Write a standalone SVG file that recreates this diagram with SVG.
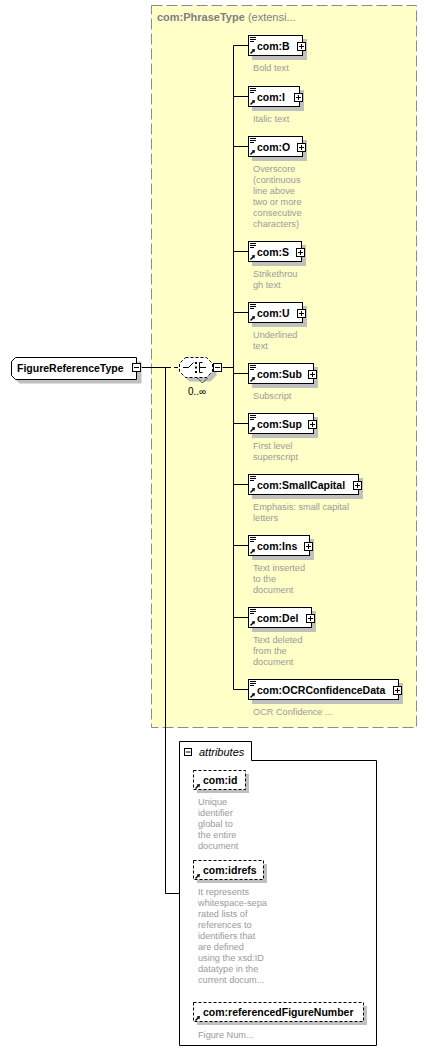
<svg xmlns="http://www.w3.org/2000/svg" xmlns:xlink="http://www.w3.org/1999/xlink" width="427" height="1063" viewBox="0 0 427 1063">
<style>
.lbl{font-family:"Liberation Sans",Arial,sans-serif;font-size:10.5px;font-weight:bold;fill:#000}
.desc{font-family:"Liberation Sans",Arial,sans-serif;font-size:9.2px;fill:#9a9a9a}
.el{fill:#fff;stroke:#000;stroke-width:1}
.att{fill:#fff;stroke:#000;stroke-width:1;stroke-dasharray:3 2}
.sh{fill:#c0c0c0}
.ln{fill:none;stroke:#000;stroke-width:1}
</style>
<defs>
<g id="elicon">
<path d="M2,2.5h6M2,4.5h6M2,6.5h4" stroke="#000" stroke-width="1" fill="none"/>
<path d="M2.5,18.5L5.5,15.5" stroke="#000" stroke-width="1.4" fill="none"/>
<polygon points="7,14 3.6,14.6 6.4,17.4" fill="#000"/>
</g>
<g id="arrowicon">
<path d="M2.5,15.5L5.5,12.5" stroke="#000" stroke-width="1.4" fill="none"/>
<polygon points="7,11 3.6,11.6 6.4,14.4" fill="#000"/>
</g>
<g id="plus">
<rect x="0.5" y="0.5" width="8" height="8" fill="#fff" stroke="#000"/>
<path d="M2,4.5h5M4.5,2v5" stroke="#000" fill="none"/>
</g>
<g id="minus">
<rect x="0.5" y="0.5" width="8" height="8" fill="#fff" stroke="#000"/>
<path d="M2,4.5h5" stroke="#000" fill="none"/>
</g>
</defs>

<g id="phrasetype">
<rect x="151.5" y="5.5" width="265" height="722" fill="#ffffc8" stroke="#8c8c8c" stroke-dasharray="11 4"/>
<text x="157" y="21" font-family="Liberation Sans,Arial,sans-serif" font-size="11px" fill="#808080"><tspan font-weight="bold">com:PhraseType</tspan> (extensi...</text>
</g>

<g id="connectors">
<path class="ln" d="M141.5,367.5H167"/>
<path class="ln" d="M167,367.5H180" stroke-dasharray="4 3"/>
<path class="ln" d="M165.5,367.5V893.5H179.5"/>
<path class="ln" d="M222.5,367.5H233.5"/>
<path class="ln" d="M233.5,45.5V689.5"/>
<path class="ln" d="M233.5,45.5H248.5M233.5,96.5H248.5M233.5,146.5H248.5M233.5,251.5H248.5M233.5,312.5H248.5M233.5,373.5H248.5M233.5,423.5H248.5M233.5,484.5H248.5M233.5,545.5H248.5M233.5,617.5H248.5M233.5,689.5H248.5"/>
</g>

<g id="FigureReferenceType">
<path class="sh" d="M19.5,361.5H141.5V383.5H19.5L15.5,379.5V365.5Z"/>
<path d="M15.5,357.5H136.5V379.5H15.5L11.5,375.5V361.5Z" fill="#fff" stroke="#000"/>
<text class="lbl" x="17" y="372">FigureReferenceType</text>
<use xlink:href="#minus" href="#minus" x="132" y="363"/>
</g>

<g id="choice">
<path class="sh" d="M189.5,361.5H210.5L216.5,367.5V375.5L210.5,381.5H189.5L183.5,375.5V367.5Z"/>
<path d="M185.5,357.5H206.5L212.5,363.5V371.5L206.5,377.5H185.5L179.5,371.5V363.5Z" fill="#fff" stroke="#000" stroke-dasharray="3 2"/>
<path d="M197.5,378L202.5,383L207.5,378" fill="none" stroke="#000" stroke-dasharray="2 1"/>
<path d="M183,367.5H188.5L193.5,362.5" fill="none" stroke="#000"/>
<rect x="195" y="362" width="2" height="2" fill="#000"/>
<rect x="195" y="366.5" width="2" height="2" fill="#000"/>
<rect x="195" y="371" width="2" height="2" fill="#000"/>
<path d="M199.5,362.5H202.5M199.5,362.5V372.5H202.5M199.5,367.5H206" fill="none" stroke="#000"/>
<use xlink:href="#minus" href="#minus" x="213" y="363"/>
<text x="188" y="395" font-family="Liberation Sans,Arial,sans-serif" font-size="10px" fill="#000">0..∞</text>
</g>

<g id="com-B">
<rect class="sh" x="252" y="39" width="55" height="21"/>
<rect class="el" x="248.5" y="35.5" width="54" height="20"/>
<use xlink:href="#elicon" href="#elicon" x="248" y="35"/>
<text class="lbl" x="257" y="50">com:B</text>
<use xlink:href="#plus" href="#plus" x="297" y="42"/>
<text class="desc" x="253" y="71">Bold text</text>
</g>

<g id="com-I">
<rect class="sh" x="252" y="90" width="52" height="21"/>
<rect class="el" x="248.5" y="86.5" width="51" height="20"/>
<use xlink:href="#elicon" href="#elicon" x="248" y="86"/>
<text class="lbl" x="257" y="101">com:I</text>
<use xlink:href="#plus" href="#plus" x="294" y="93"/>
<text class="desc" x="253" y="122">Italic text</text>
</g>

<g id="com-O">
<rect class="sh" x="252" y="140" width="55" height="21"/>
<rect class="el" x="248.5" y="136.5" width="54" height="20"/>
<use xlink:href="#elicon" href="#elicon" x="248" y="136"/>
<text class="lbl" x="257" y="151">com:O</text>
<use xlink:href="#plus" href="#plus" x="297" y="143"/>
<text class="desc" x="253" y="172">Overscore</text>
<text class="desc" x="253" y="183">(continuous</text>
<text class="desc" x="253" y="194">line above</text>
<text class="desc" x="253" y="205">two or more</text>
<text class="desc" x="253" y="216">consecutive</text>
<text class="desc" x="253" y="227">characters)</text>
</g>

<g id="com-S">
<rect class="sh" x="252" y="245" width="54" height="21"/>
<rect class="el" x="248.5" y="241.5" width="53" height="20"/>
<use xlink:href="#elicon" href="#elicon" x="248" y="241"/>
<text class="lbl" x="257" y="256">com:S</text>
<use xlink:href="#plus" href="#plus" x="296" y="248"/>
<text class="desc" x="253" y="277">Strikethrou</text>
<text class="desc" x="253" y="288">gh text</text>
</g>

<g id="com-U">
<rect class="sh" x="252" y="306" width="55" height="21"/>
<rect class="el" x="248.5" y="302.5" width="54" height="20"/>
<use xlink:href="#elicon" href="#elicon" x="248" y="302"/>
<text class="lbl" x="257" y="317">com:U</text>
<use xlink:href="#plus" href="#plus" x="297" y="309"/>
<text class="desc" x="253" y="338">Underlined</text>
<text class="desc" x="253" y="349">text</text>
</g>

<g id="com-Sub">
<rect class="sh" x="252" y="367" width="66" height="21"/>
<rect class="el" x="248.5" y="363.5" width="65" height="20"/>
<use xlink:href="#elicon" href="#elicon" x="248" y="363"/>
<text class="lbl" x="257" y="378">com:Sub</text>
<use xlink:href="#plus" href="#plus" x="308" y="370"/>
<text class="desc" x="253" y="399">Subscript</text>
</g>

<g id="com-Sup">
<rect class="sh" x="252" y="417" width="66" height="21"/>
<rect class="el" x="248.5" y="413.5" width="65" height="20"/>
<use xlink:href="#elicon" href="#elicon" x="248" y="413"/>
<text class="lbl" x="257" y="428">com:Sup</text>
<use xlink:href="#plus" href="#plus" x="308" y="420"/>
<text class="desc" x="253" y="449">First level</text>
<text class="desc" x="253" y="460">superscript</text>
</g>

<g id="com-SmallCapital">
<rect class="sh" x="252" y="478" width="111" height="21"/>
<rect class="el" x="248.5" y="474.5" width="110" height="20"/>
<use xlink:href="#elicon" href="#elicon" x="248" y="474"/>
<text class="lbl" x="257" y="489">com:SmallCapital</text>
<use xlink:href="#plus" href="#plus" x="353" y="481"/>
<text class="desc" x="253" y="510">Emphasis: small capital</text>
<text class="desc" x="253" y="521">letters</text>
</g>

<g id="com-Ins">
<rect class="sh" x="252" y="539" width="62" height="21"/>
<rect class="el" x="248.5" y="535.5" width="61" height="20"/>
<use xlink:href="#elicon" href="#elicon" x="248" y="535"/>
<text class="lbl" x="257" y="550">com:Ins</text>
<use xlink:href="#plus" href="#plus" x="304" y="542"/>
<text class="desc" x="253" y="571">Text inserted</text>
<text class="desc" x="253" y="582">to the</text>
<text class="desc" x="253" y="593">document</text>
</g>

<g id="com-Del">
<rect class="sh" x="252" y="611" width="64" height="21"/>
<rect class="el" x="248.5" y="607.5" width="63" height="20"/>
<use xlink:href="#elicon" href="#elicon" x="248" y="607"/>
<text class="lbl" x="257" y="622">com:Del</text>
<use xlink:href="#plus" href="#plus" x="306" y="614"/>
<text class="desc" x="253" y="643">Text deleted</text>
<text class="desc" x="253" y="654">from the</text>
<text class="desc" x="253" y="665">document</text>
</g>

<g id="com-OCRConfidenceData">
<rect class="sh" x="252" y="683" width="151" height="21"/>
<rect class="el" x="248.5" y="679.5" width="150" height="20"/>
<use xlink:href="#elicon" href="#elicon" x="248" y="679"/>
<text class="lbl" x="257" y="694">com:OCRConfidenceData</text>
<use xlink:href="#plus" href="#plus" x="393" y="686"/>
<text class="desc" x="253" y="715">OCR Confidence ...</text>
</g>

<g id="attributes">
<path d="M179.5,741.5H251.5V760.5H376.5V1045.5H179.5Z" fill="#fff" stroke="#000"/>
<rect x="184.5" y="748.5" width="7" height="7" fill="#fff" stroke="#000"/>
<path d="M186,752H190.5" stroke="#000"/>
<text x="199" y="756" font-family="Liberation Sans,Arial,sans-serif" font-size="11px" font-style="italic" fill="#000">attributes</text>
</g>

<g id="com-id">
<rect class="sh" x="197" y="774" width="52" height="19"/>
<rect class="att" x="193.5" y="770.5" width="52" height="19"/>
<use xlink:href="#arrowicon" href="#arrowicon" x="193" y="773"/>
<text class="lbl" x="203" y="784">com:id</text>
<text class="desc" x="198" y="805">Unique</text>
<text class="desc" x="198" y="816">identifier</text>
<text class="desc" x="198" y="827">global to</text>
<text class="desc" x="198" y="838">the entire</text>
<text class="desc" x="198" y="849">document</text>
</g>

<g id="com-idrefs">
<rect class="sh" x="197" y="864" width="70" height="19"/>
<rect class="att" x="193.5" y="860.5" width="70" height="19"/>
<use xlink:href="#arrowicon" href="#arrowicon" x="193" y="863"/>
<text class="lbl" x="203" y="874">com:idrefs</text>
<text class="desc" x="198" y="895">It represents</text>
<text class="desc" x="198" y="906">whitespace-sepa</text>
<text class="desc" x="198" y="917">rated lists of</text>
<text class="desc" x="198" y="928">references to</text>
<text class="desc" x="198" y="939">identifiers that</text>
<text class="desc" x="198" y="950">are defined</text>
<text class="desc" x="198" y="961">using the xsd:ID</text>
<text class="desc" x="198" y="972">datatype in the</text>
<text class="desc" x="198" y="983">current docum...</text>
</g>

<g id="com-referencedFigureNumber">
<rect class="sh" x="197" y="1006" width="170" height="19"/>
<rect class="att" x="193.5" y="1002.5" width="170" height="19"/>
<use xlink:href="#arrowicon" href="#arrowicon" x="193" y="1005"/>
<text class="lbl" x="203" y="1016">com:referencedFigureNumber</text>
<text class="desc" x="198" y="1038">Figure Num...</text>
</g>
</svg>
